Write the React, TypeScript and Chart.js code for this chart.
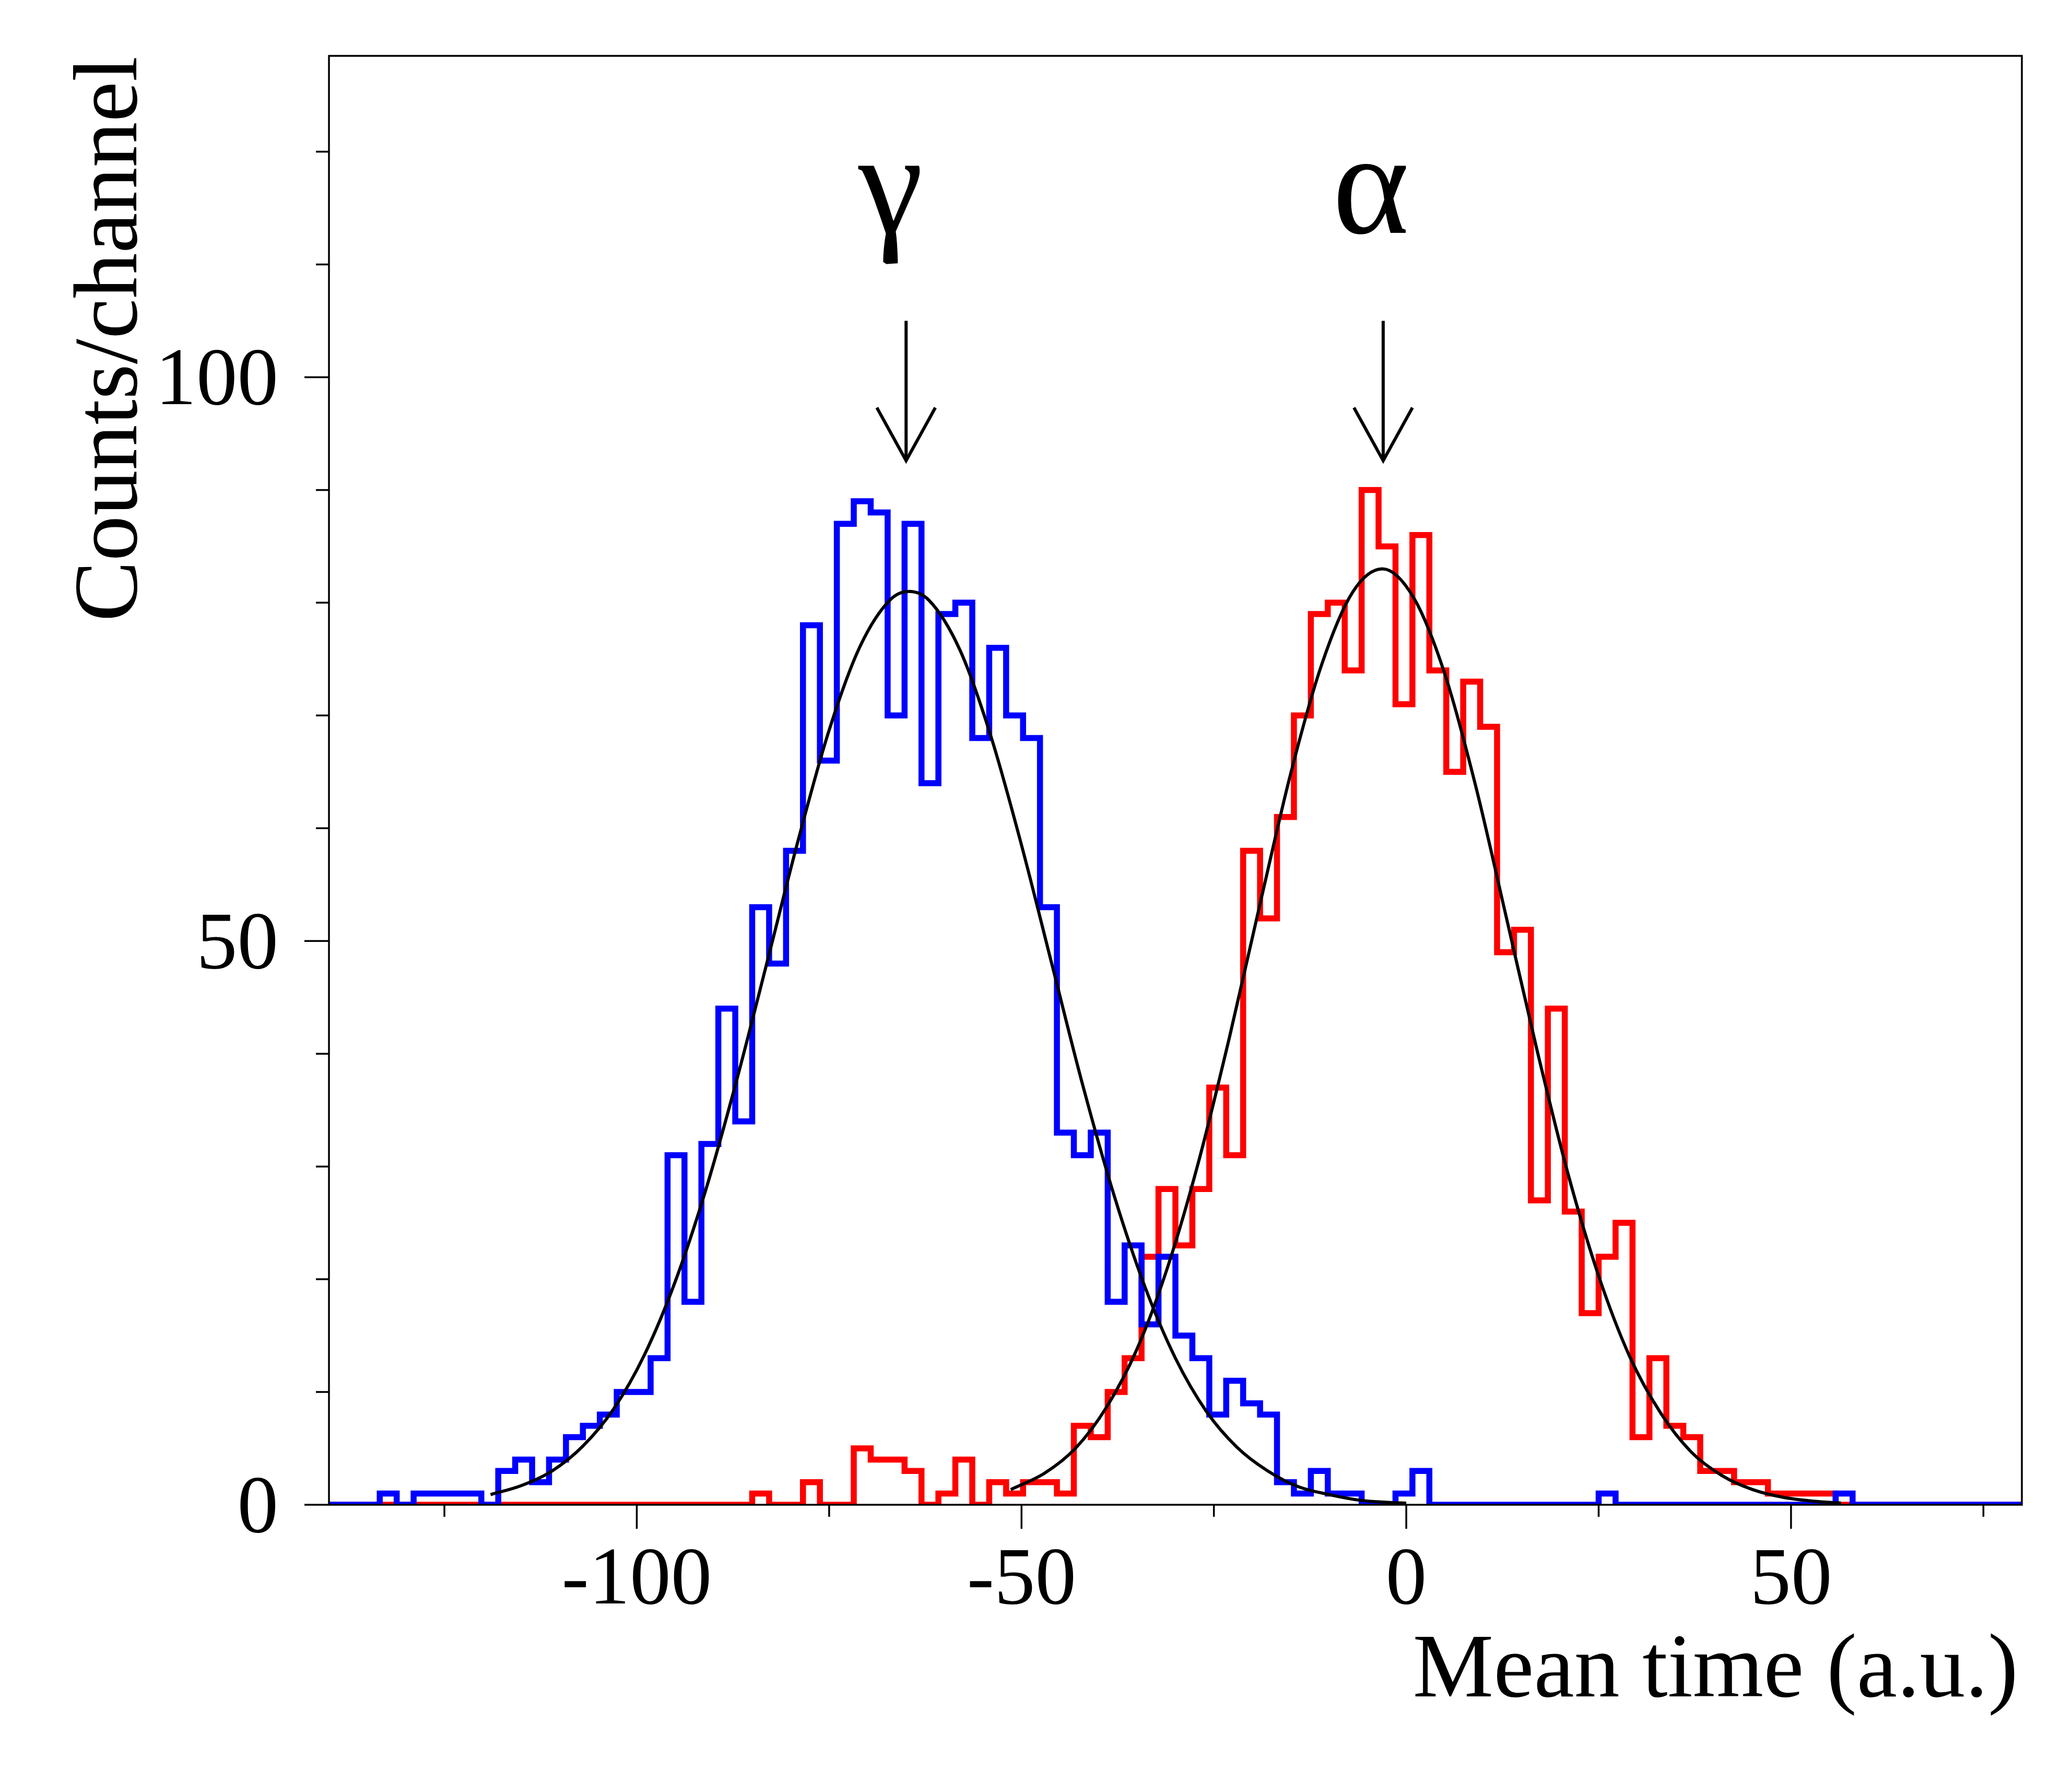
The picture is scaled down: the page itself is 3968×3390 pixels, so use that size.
import { useEffect, useRef } from 'react';
import { Chart, registerables } from 'chart.js';
import type { Plugin } from 'chart.js';

Chart.register(...registerables);

// histogram binning: 100 channels between -140 and 80
const X_MIN = -140;
const X_MAX = 80;
const BIN_WIDTH = 2.2;
const Y_MAX = 128.5;

// gamma (blue) counts per channel
const BLUE_COUNTS = [
  0, 0, 0, 1, 0, 1, 1, 1, 1, 0,
  3, 4, 2, 4, 6, 7, 8, 10, 10, 13,
  31, 18, 32, 44, 34, 53, 48, 58, 78, 66,
  87, 89, 88, 70, 87, 64, 79, 80, 68, 76,
  70, 68, 53, 33, 31, 33, 18, 23, 16, 22,
  15, 13, 8, 11, 9, 8, 2, 1, 3, 1,
  1, 0, 0, 1, 3, 0, 0, 0, 0, 0,
  0, 0, 0, 0, 0, 1, 0, 0, 0, 0,
  0, 0, 0, 0, 0, 0, 0, 0, 0, 1,
  0, 0, 0, 0, 0, 0, 0, 0, 0, 0,
];

// alpha (red) counts per channel
const RED_COUNTS = [
  0, 0, 0, 0, 0, 0, 0, 0, 0, 0,
  0, 0, 0, 0, 0, 0, 0, 0, 0, 0,
  0, 0, 0, 0, 0, 1, 0, 0, 2, 0,
  0, 5, 4, 4, 3, 0, 1, 4, 0, 2,
  1, 2, 2, 1, 7, 6, 10, 13, 22, 28,
  23, 28, 37, 31, 58, 52, 61, 70, 79, 80,
  74, 90, 85, 71, 86, 74, 65, 73, 69, 49,
  51, 27, 44, 26, 17, 22, 25, 6, 13, 7,
  6, 3, 3, 2, 2, 1, 1, 1, 1, 0,
  0, 0, 0, 0, 0, 0, 0, 0, 0, 0,
];

// fitted curves
const BLUE_FIT_X = [-119, -115, -111, -107, -103, -99, -95, -91, -87, -83, -79, -75, -71, -67, -64.6, -62, -58, -54, -50, -46, -42, -38, -34, -30, -26, -22, -18, -14, -10, -6, -2, 0];
const BLUE_FIT_Y = [0.9, 1.7, 3.0, 5.2, 8.5, 13.3, 19.8, 28.0, 37.7, 48.3, 59.0, 68.7, 76.1, 80.3, 81.0, 80.2, 75.8, 68.2, 58.5, 47.8, 37.1, 27.5, 19.4, 13.0, 8.3, 5.1, 3.0, 1.6, 0.9, 0.4, 0.2, 0.14];
const RED_FIT_X = [-51.4, -47, -43, -39, -35, -31, -27, -23, -19, -15, -11, -7, -3.1, 1, 5, 9, 13, 17, 21, 25, 29, 33, 37, 41, 45, 49, 53, 56.5];
const RED_FIT_Y = [1.35, 2.8, 5.0, 8.6, 13.8, 21.1, 30.4, 41.4, 53.3, 64.9, 74.5, 80.9, 83.0, 80.4, 73.7, 63.8, 52.1, 40.3, 29.4, 20.3, 13.2, 8.2, 4.7, 2.6, 1.35, 0.66, 0.31, 0.15];

const X_MAJOR = [-100, -50, 0, 50];
const X_MINOR = [-125, -75, -25, 25, 75];
const Y_MAJOR = [0, 50, 100];
const Y_MINOR = [10, 20, 30, 40, 60, 70, 80, 90, 110, 120];

const PEAK_LABELS = ['γ', 'α'];
const PEAK_TEXT_X = [-67, -4.6];
const PEAK_ARROW_X = [-65, -3];

const FONT = '"Liberation Serif", "Times New Roman", serif';

function toSteps(counts: number[]) {
  const pts = counts.map((c, i) => ({ x: X_MIN + i * BIN_WIDTH, y: c }));
  pts.push({ x: X_MIN + counts.length * BIN_WIDTH, y: counts[counts.length - 1] });
  return pts;
}

function toPoints(xs: number[], ys: number[]) {
  return xs.map((x, i) => ({ x, y: ys[i] }));
}

// ROOT-like frame, outward ticks, labels and the peak markers
const rootFrame: Plugin<'line'> = {
  id: 'rootFrame',
  afterDatasetsDraw(chart) {
    const { ctx, chartArea } = chart;
    const xs = chart.scales.x;
    const ys = chart.scales.y;
    const { left, right, top, bottom } = chartArea;

    ctx.save();
    ctx.strokeStyle = '#000';
    ctx.fillStyle = '#000';

    // arrows and greek labels
    ctx.lineWidth = 6;
    ctx.lineJoin = 'miter';
    PEAK_LABELS.forEach((label, i) => {
      const ax = xs.getPixelForValue(PEAK_ARROW_X[i]);
      const hw = xs.getPixelForValue(PEAK_ARROW_X[i] + 3.8) - ax;
      const shaftTop = ys.getPixelForValue(105);
      const tip = ys.getPixelForValue(92.6);
      const headBase = ys.getPixelForValue(97.3);
      ctx.beginPath();
      ctx.moveTo(ax, shaftTop);
      ctx.lineTo(ax, tip);
      ctx.stroke();
      ctx.beginPath();
      ctx.moveTo(ax - hw, headBase);
      ctx.lineTo(ax, tip);
      ctx.lineTo(ax + hw, headBase);
      ctx.stroke();

      ctx.font = `280px ${FONT}`;
      ctx.textAlign = 'center';
      ctx.textBaseline = 'alphabetic';
      ctx.fillText(label, xs.getPixelForValue(PEAK_TEXT_X[i]), ys.getPixelForValue(112.8));
    });

    // frame
    ctx.lineWidth = 3.5;
    ctx.strokeRect(left, top, right - left, bottom - top);

    // ticks
    ctx.beginPath();
    X_MAJOR.forEach((v) => {
      const px = xs.getPixelForValue(v);
      ctx.moveTo(px, bottom);
      ctx.lineTo(px, bottom + 46);
    });
    X_MINOR.forEach((v) => {
      const px = xs.getPixelForValue(v);
      ctx.moveTo(px, bottom);
      ctx.lineTo(px, bottom + 23);
    });
    Y_MAJOR.forEach((v) => {
      const py = ys.getPixelForValue(v);
      ctx.moveTo(left, py);
      ctx.lineTo(left - 47, py);
    });
    Y_MINOR.forEach((v) => {
      const py = ys.getPixelForValue(v);
      ctx.moveTo(left, py);
      ctx.lineTo(left - 25, py);
    });
    ctx.stroke();

    // tick labels
    ctx.font = `157px ${FONT}`;
    ctx.textBaseline = 'alphabetic';
    ctx.textAlign = 'center';
    X_MAJOR.forEach((v) => {
      ctx.fillText(String(v), xs.getPixelForValue(v), 3071);
    });
    ctx.textAlign = 'right';
    Y_MAJOR.forEach((v) => {
      ctx.fillText(String(v), 533, ys.getPixelForValue(v) + 52);
    });

    // axis titles
    ctx.font = `174px ${FONT}`;
    ctx.textAlign = 'right';
    ctx.fillText('Mean time (a.u.)', right - 7, 3249);

    ctx.translate(261, top + 1);
    ctx.rotate(-Math.PI / 2);
    ctx.fillText('Counts/channel', 0, 0);

    ctx.restore();
  },
};

export default function App() {
  const canvasRef = useRef<HTMLCanvasElement>(null);
  const chartRef = useRef<Chart<'line'> | null>(null);

  useEffect(() => {
    if (!canvasRef.current) return;
    document.body.style.margin = '0';

    if (chartRef.current) {
      chartRef.current.destroy();
    }

    chartRef.current = new Chart(canvasRef.current, {
      type: 'line',
      data: {
        datasets: [
          {
            label: 'gamma fit',
            data: toPoints(BLUE_FIT_X, BLUE_FIT_Y),
            borderColor: '#000000',
            borderWidth: 6,
            pointRadius: 0,
            cubicInterpolationMode: 'monotone',
            order: 0,
          },
          {
            label: 'alpha fit',
            data: toPoints(RED_FIT_X, RED_FIT_Y),
            borderColor: '#000000',
            borderWidth: 6,
            pointRadius: 0,
            cubicInterpolationMode: 'monotone',
            order: 0,
          },
          {
            label: 'gamma',
            data: toSteps(BLUE_COUNTS),
            borderColor: '#0000ff',
            borderWidth: 11.5,
            pointRadius: 0,
            stepped: 'before',
            order: 1,
          },
          {
            label: 'alpha',
            data: toSteps(RED_COUNTS),
            borderColor: '#ff0000',
            borderWidth: 11.5,
            pointRadius: 0,
            stepped: 'before',
            order: 2,
          },
        ],
      },
      options: {
        responsive: false,
        animation: false,
        events: [],
        layout: { padding: { left: 630, top: 107, right: 96, bottom: 508 } },
        plugins: {
          legend: { display: false },
          tooltip: { enabled: false },
        },
        scales: {
          x: { type: 'linear', min: X_MIN, max: X_MAX, display: false },
          y: { type: 'linear', min: 0, max: Y_MAX, display: false },
        },
      },
      plugins: [rootFrame],
    });

    return () => {
      chartRef.current?.destroy();
      chartRef.current = null;
    };
  }, []);

  return (
    <div style={{ width: 3968, height: 3390, background: '#fff' }}>
      <canvas ref={canvasRef} width={3968} height={3390} style={{ display: 'block' }} />
    </div>
  );
}
